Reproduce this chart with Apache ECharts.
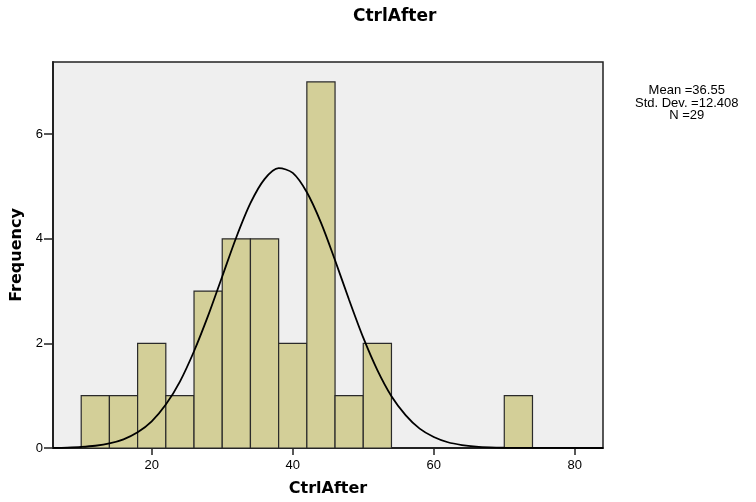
<!DOCTYPE html>
<html>
<head>
<meta charset="utf-8">
<script src="https://cdn.jsdelivr.net/npm/echarts@6/dist/echarts.min.js"></script>
<style>
	html, body { margin: 0; padding: 0; background: #fff; }
	#main { width: 756px; height: 502px; }
</style>
</head>
<body>
<div id="main"></div>
<script>
// histogram bins (width 4)
var binStarts = [10, 14, 18, 22, 26, 30, 34, 38, 42, 46, 50, 70];
var counts = [1, 1, 2, 1, 3, 4, 4, 2, 7, 1, 2, 1];
var binWidth = 4;

// normal curve, every 2 units
var curveX = [6, 8, 10, 12, 14, 16, 18, 20, 22, 24, 26, 28, 30, 32, 34, 36, 38, 40, 42, 44, 46, 48, 50, 52, 54, 56, 58, 60, 62, 64, 66, 68, 70, 72, 84];
var curveY = [0.004, 0.009, 0.02, 0.043, 0.087, 0.166, 0.30, 0.51, 0.83, 1.27, 1.85, 2.53, 3.28, 4.03, 4.68, 5.14, 5.35, 5.26, 4.89, 4.31, 3.59, 2.83, 2.11, 1.49, 0.99, 0.63, 0.37, 0.21, 0.11, 0.057, 0.027, 0.012, 0.005, 0.002, 0];

var xTicks = [20, 40, 60, 80];
var yTicks = [0, 2, 4, 6];
var stats = ['Mean =36.55', 'Std. Dev. =12.408', 'N =29'];

(function() {
	var myChart = echarts.init(document.getElementById('main'), null, { renderer: 'canvas' });

	var bins = binStarts.map(function(s, i) {
		return [s, s + binWidth, counts[i]];
	});
	var curve = curveX.map(function(x, i) {
		return [x, curveY[i]];
	});

	var option = {
		animation: false,
		backgroundColor: '#ffffff',
		title: {
			text: 'CtrlAfter',
			left: 353,
			top: 8,
			padding: 0,
			textStyle: {
				fontFamily: 'DejaVu Sans',
				fontSize: 17,
				fontWeight: 'bold',
				color: '#000'
			}
		},
		grid: {
			left: 53,
			right: 153,
			top: 62,
			bottom: 52.5,
			show: true,
			backgroundColor: '#efefef',
			borderColor: '#222',
			borderWidth: 1.5
		},
		xAxis: {
			type: 'value',
			min: 6,
			max: 84,
			name: 'CtrlAfter',
			nameLocation: 'middle',
			nameGap: 33,
			nameTextStyle: {
				fontFamily: 'DejaVu Sans',
				fontSize: 16,
				fontWeight: 'bold',
				color: '#000'
			},
			axisLine: { show: true, onZero: false, lineStyle: { color: '#222', width: 2 } },
			axisTick: { show: true, length: 7, customValues: xTicks, lineStyle: { color: '#222', width: 1.5 } },
			axisLabel: {
				customValues: xTicks,
				margin: 11,
				fontFamily: 'Liberation Sans',
				fontSize: 13,
				color: '#000'
			},
			splitLine: { show: false }
		},
		yAxis: {
			type: 'value',
			min: 0,
			max: 7.38,
			name: 'Frequency',
			nameLocation: 'middle',
			nameGap: 27,
			nameTextStyle: {
				fontFamily: 'DejaVu Sans',
				fontSize: 16,
				fontWeight: 'bold',
				color: '#000'
			},
			axisLine: { show: true, lineStyle: { color: '#222', width: 2 } },
			axisTick: { show: true, length: 9, customValues: yTicks, lineStyle: { color: '#222', width: 1.5 } },
			axisLabel: {
				customValues: yTicks,
				margin: 10,
				fontFamily: 'Liberation Sans',
				fontSize: 13,
				color: '#000'
			},
			splitLine: { show: false }
		},
		graphic: [{
			type: 'text',
			left: 695 - 60,
			top: 84,
			style: {
				text: stats.join('\n'),
				x: 60,
				textAlign: 'center',
				font: '13px "Liberation Sans"',
				lineHeight: 12.5,
				fill: '#000'
			}
		}],
		series: [{
			name: 'bins',
			type: 'custom',
			z: 2,
			data: bins,
			encode: { x: [0, 1], y: 2 },
			renderItem: function(params, api) {
				var p0 = api.coord([api.value(0), 0]);
				var p1 = api.coord([api.value(1), api.value(2)]);
				return {
					type: 'rect',
					shape: {
						x: p0[0],
						y: p1[1],
						width: p1[0] - p0[0],
						height: p0[1] - p1[1]
					},
					style: {
						fill: '#d3cf98',
						stroke: '#2a2a2a',
						lineWidth: 1.2
					}
				};
			}
		}, {
			name: 'normal',
			type: 'line',
			z: 3,
			data: curve,
			smooth: 0.3,
			symbol: 'none',
			lineStyle: { color: '#000', width: 1.8 }
		}]
	};

	myChart.setOption(option);
})();
</script>
</body>
</html>
